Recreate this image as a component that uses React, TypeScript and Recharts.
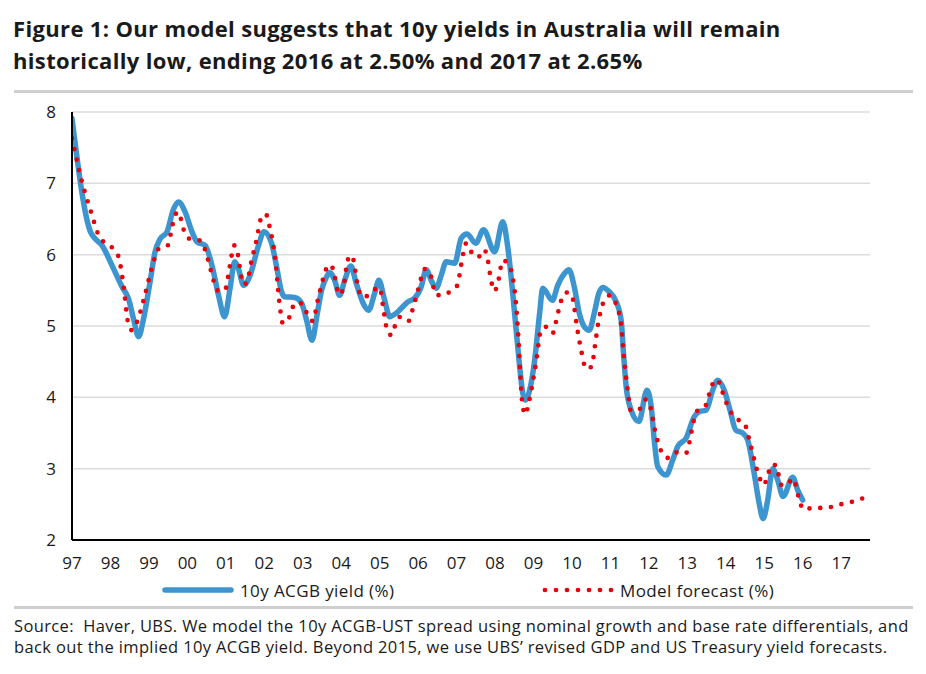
import React from "react";
import { LineChart, Line, XAxis, YAxis, CartesianGrid } from "recharts";

const acgbYears = [
  1997.0, 1997.48, 1997.61, 1997.78, 1998.04, 1998.3, 1998.47, 1998.6, 1998.73, 1998.86,
  1999.03, 1999.16, 1999.29, 1999.47, 1999.64, 1999.77, 1999.94, 2000.12, 2000.25, 2000.46,
  2000.64, 2000.81, 2000.97, 2001.11, 2001.23, 2001.33, 2001.46, 2001.63, 2001.85, 2001.99,
  2002.19, 2002.32, 2002.45, 2002.53, 2002.79, 2002.97, 2003.1, 2003.24, 2003.38, 2003.49,
  2003.62, 2003.7, 2003.83, 2003.96, 2004.09, 2004.25, 2004.39, 2004.57, 2004.71, 2004.87,
  2004.98, 2005.13, 2005.26, 2005.43, 2005.74, 2005.91, 2006.08, 2006.21, 2006.34, 2006.47,
  2006.6, 2006.73, 2006.95, 2007.12, 2007.27, 2007.5, 2007.7, 2007.99, 2008.2, 2008.33,
  2008.46, 2008.55, 2008.64, 2008.72, 2008.79, 2008.9, 2009.03, 2009.16, 2009.24, 2009.49,
  2009.63, 2009.81, 2009.92, 2010.06, 2010.19, 2010.32, 2010.45, 2010.58, 2010.7, 2010.8,
  2010.97, 2011.15, 2011.28, 2011.34, 2011.41, 2011.54, 2011.74, 2011.95, 2012.06, 2012.14,
  2012.23, 2012.45, 2012.62, 2012.75, 2012.97, 2013.18, 2013.31, 2013.49, 2013.66, 2013.79,
  2013.96, 2014.11, 2014.26, 2014.44, 2014.57, 2014.74, 2014.87, 2014.97, 2015.09, 2015.22,
  2015.35, 2015.49, 2015.74, 2015.87, 2016.0,
];
const acgbValues = [
  7.91, 6.32, 6.22, 6.13, 5.85, 5.55, 5.38, 5.1, 4.85, 5.1,
  5.62, 6.04, 6.22, 6.32, 6.64, 6.74, 6.6, 6.32, 6.18, 6.13,
  5.85, 5.43, 5.13, 5.53, 5.9, 5.8, 5.57, 5.71, 6.13, 6.32,
  6.16, 5.83, 5.48, 5.41, 5.4, 5.32, 5.08, 4.8, 5.18, 5.5,
  5.69, 5.75, 5.64, 5.43, 5.64, 5.84, 5.6, 5.32, 5.22, 5.46,
  5.64, 5.36, 5.13, 5.18, 5.34, 5.39, 5.55, 5.79, 5.64, 5.53,
  5.71, 5.9, 5.88, 6.23, 6.29, 6.16, 6.35, 6.04, 6.46, 6.11,
  5.46, 4.94, 4.43, 4.06, 3.96, 4.1, 4.52, 5.18, 5.53, 5.36,
  5.57, 5.74, 5.79, 5.55, 5.18, 4.99, 4.94, 5.18, 5.46, 5.54,
  5.48, 5.34, 5.08, 4.62, 4.15, 3.82, 3.66, 4.1, 3.87, 3.4,
  3.03, 2.91, 3.12, 3.31, 3.43, 3.73, 3.8, 3.82, 4.1, 4.24,
  4.1, 3.82, 3.54, 3.5, 3.4, 2.93, 2.51, 2.3, 2.56, 3.0,
  2.84, 2.61, 2.88, 2.7, 2.56,
];

const modelYears = [
  1997.0, 1997.26, 1997.5, 1997.68, 1997.82, 1998.06, 1998.21, 1998.27, 1998.35, 1998.45,
  1998.56, 1998.7, 1998.86, 1999.07, 1999.25, 1999.49, 1999.62, 1999.74, 1999.87, 1999.94,
  2000.12, 2000.33, 2000.46, 2000.61, 2000.78, 2000.9, 2001.0, 2001.1, 2001.22, 2001.3,
  2001.39, 2001.46, 2001.55, 2001.67, 2001.8, 2001.91, 2002.04, 2002.13, 2002.24, 2002.31,
  2002.36, 2002.42, 2002.47, 2002.6, 2002.69, 2002.84, 2003.04, 2003.12, 2003.26, 2003.39,
  2003.53, 2003.61, 2003.72, 2003.83, 2003.88, 2003.96, 2004.06, 2004.14, 2004.22, 2004.31,
  2004.4, 2004.45, 2004.59, 2004.83, 2005.0, 2005.1, 2005.2, 2005.31, 2005.41, 2005.54,
  2005.75, 2005.85, 2006.0, 2006.18, 2006.31, 2006.38, 2006.45, 2006.62, 2006.85, 2007.02,
  2007.12, 2007.25, 2007.38, 2007.55, 2007.72, 2007.81, 2007.9, 2007.99, 2008.08, 2008.2,
  2008.36, 2008.45, 2008.52, 2008.6, 2008.66, 2008.71, 2008.79, 2008.87, 2008.98, 2009.07,
  2009.2, 2009.35, 2009.5, 2009.58, 2009.71, 2009.85, 2010.0, 2010.05, 2010.13, 2010.23,
  2010.37, 2010.51, 2010.6, 2010.68, 2010.81, 2010.99, 2011.15, 2011.28, 2011.35, 2011.45,
  2011.53, 2011.77, 2011.92, 2012.04, 2012.15, 2012.3, 2012.49, 2012.7, 2012.96, 2013.05,
  2013.16, 2013.24, 2013.47, 2013.64, 2013.78, 2013.88, 2014.09, 2014.25, 2014.48, 2014.64,
  2014.86, 2014.98, 2015.09, 2015.18, 2015.31, 2015.38, 2015.46, 2015.61, 2015.75, 2015.91,
  2016.01, 2016.29, 2016.58, 2016.86, 2017.12, 2017.4, 2017.68, 2017.75,
];
const modelValues = [
  7.63, 7.02, 6.59, 6.29, 6.18, 6.09, 5.97, 5.82, 5.52, 5.07,
  4.94, 5.07, 5.36, 5.8, 6.08, 6.13, 6.43, 6.6, 6.43, 6.28,
  6.21, 6.2, 6.07, 5.78, 5.5, 5.48, 5.53, 5.83, 6.13, 6.04,
  5.73, 5.58, 5.62, 5.92, 6.21, 6.5, 6.57, 6.41, 6.11, 5.81,
  5.5, 5.21, 5.05, 5.05, 5.2, 5.33, 5.29, 5.15, 5.07, 5.36,
  5.66, 5.8, 5.86, 5.7, 5.55, 5.44, 5.55, 5.84, 5.99, 5.94,
  5.65, 5.5, 5.4, 5.5, 5.54, 5.23, 4.93, 4.87, 5.02, 5.13,
  5.07, 5.22, 5.51, 5.8, 5.74, 5.59, 5.44, 5.43, 5.49, 5.57,
  5.86, 6.16, 6.04, 5.96, 6.07, 5.93, 5.63, 5.49, 5.62, 5.92,
  5.86, 5.71, 5.45, 4.9, 4.3, 3.91, 3.76, 3.91, 4.21, 4.5,
  4.95, 4.99, 4.9, 5.05, 5.34, 5.47, 5.44, 5.29, 4.99, 4.69,
  4.4, 4.43, 4.73, 5.03, 5.32, 5.43, 5.3, 5.01, 4.56, 4.1,
  3.81, 3.84, 3.97, 3.86, 3.56, 3.27, 3.15, 3.23, 3.21, 3.36,
  3.66, 3.8, 3.88, 4.17, 4.25, 4.12, 3.83, 3.71, 3.64, 3.34,
  2.9, 2.77, 2.9, 3.05, 3.05, 2.9, 2.76, 2.79, 2.86, 2.57,
  2.43, 2.45, 2.45, 2.48, 2.52, 2.55, 2.61, 2.62,
];

const xTicks = [
  1997, 1998, 1999, 2000, 2001, 2002, 2003, 2004, 2005, 2006, 2007,
  2008, 2009, 2010, 2011, 2012, 2013, 2014, 2015, 2016, 2017,
];
const yTicks = [2, 3, 4, 5, 6, 7, 8];

const titleLines = [
  "Figure 1: Our model suggests that 10y yields in Australia will remain",
  "historically low, ending 2016 at 2.50% and 2017 at 2.65%",
];
const sourceLines = [
  "Source:\u00a0 Haver, UBS. We model the 10y ACGB-UST spread using nominal growth and base rate differentials, and",
  "back out the implied 10y ACGB yield. Beyond 2015, we use UBS\u2019 revised GDP and US Treasury yield forecasts.",
];
const seriesNames = ["10y ACGB yield (%)", "Model forecast (%)"];

const BLUE = "#3c95cf";
const RED = "#e8000b";
const FONT = "'Open Sans', 'Noto Sans', sans-serif";
const TEXT = "#1a1a1a";

const acgbData = acgbYears.map((x, i) => ({ x, y: acgbValues[i] }));
const modelData = modelYears.map((x, i) => ({ x, y: modelValues[i] }));

export default function App() {
  return (
    <div
      style={{
        position: "absolute",
        left: 0,
        top: 0,
        width: 926,
        height: 674,
        background: "#fff",
        fontFamily: FONT,
        color: TEXT,
        overflow: "hidden",
      }}
    >
      <div
        style={{
          position: "absolute",
          left: 13,
          top: 12,
          fontSize: 22,
          fontWeight: 700,
          letterSpacing: 0.35,
          lineHeight: "32px",
          whiteSpace: "nowrap",
        }}
      >
        {titleLines.map((t, i) => (
          <div key={i}>{t}</div>
        ))}
      </div>
      <div style={{ position: "absolute", left: 14, top: 90, width: 899, height: 3, background: "#cfcfcf" }} />

      <div style={{ position: "absolute", left: 0, top: 95 }}>
        <LineChart width={926} height={485} margin={{ top: 17, right: 56, bottom: 0, left: 0 }}>
          <CartesianGrid horizontal={true} vertical={false} stroke="#dcdcdc" strokeWidth={1.5} />
          <XAxis
            type="number"
            dataKey="x"
            domain={[1997, 2017.75]}
            ticks={xTicks}
            allowDataOverflow
            tickFormatter={(v: number) => String(v).slice(2)}
            axisLine={{ stroke: "#000", strokeWidth: 2 }}
            tickLine={false}
            tickSize={6}
            tickMargin={11}
            height={40}
            tick={{ fill: TEXT, fontSize: 17, fontFamily: FONT }}
          />
          <YAxis
            type="number"
            domain={[2, 8]}
            ticks={yTicks}
            allowDataOverflow
            axisLine={{ stroke: "#000", strokeWidth: 2 }}
            tickLine={false}
            tickSize={6}
            tickMargin={10}
            width={72}
            tick={{ fill: TEXT, fontSize: 17, fontFamily: FONT }}
          />
          <Line
            data={acgbData}
            dataKey="y"
            type="monotone"
            stroke={BLUE}
            strokeWidth={5.5}
            strokeLinejoin="round"
            strokeLinecap="round"
            dot={false}
            activeDot={false}
            isAnimationActive={false}
          />
          <Line
            data={modelData}
            dataKey="y"
            type="monotone"
            stroke={RED}
            strokeWidth={4.7}
            strokeDasharray="0 10.8"
            strokeLinecap="round"
            dot={false}
            activeDot={false}
            isAnimationActive={false}
          />
        </LineChart>
      </div>

      <div style={{ position: "absolute", left: 162, top: 578, height: 24, display: "flex", alignItems: "center", fontSize: 17, letterSpacing: 0.4 }}>
        <svg width={72} height={10} style={{ marginRight: 6 }}>
          <line x1={3} y1={5} x2={69} y2={5} stroke={BLUE} strokeWidth={5.5} strokeLinecap="round" />
        </svg>
        <span>{seriesNames[0]}</span>
      </div>
      <div style={{ position: "absolute", left: 542, top: 578, height: 24, display: "flex", alignItems: "center", fontSize: 17, letterSpacing: 0.4 }}>
        <svg width={72} height={10} style={{ marginRight: 6 }}>
          <line x1={3} y1={5} x2={70} y2={5} stroke={RED} strokeWidth={4.7} strokeDasharray="0 11" strokeLinecap="round" />
        </svg>
        <span>{seriesNames[1]}</span>
      </div>

      <div style={{ position: "absolute", left: 14, top: 606, width: 899, height: 3, background: "#cfcfcf" }} />
      <div
        style={{
          position: "absolute",
          left: 14,
          top: 615,
          fontSize: 16.5,
          letterSpacing: 0.37,
          lineHeight: "21px",
          whiteSpace: "nowrap",
        }}
      >
        {sourceLines.map((t, i) => (
          <div key={i}>{t}</div>
        ))}
      </div>
    </div>
  );
}
